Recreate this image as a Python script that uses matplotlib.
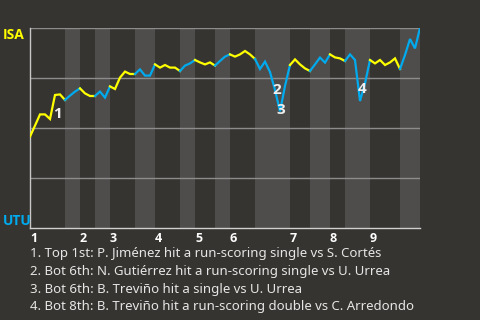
import matplotlib
matplotlib.use("Agg")
import matplotlib.pyplot as plt
import numpy as np

plt.rcParams['font.family'] = ['Noto Sans', 'DejaVu Sans']
BOLD_FAMILY = ['Open Sans', 'DejaVu Sans']

# plate appearances per half-inning (top 1, bot 1, top 2, ...)
pa_counts = [7, 3, 3, 3, 5, 4, 5, 3, 4, 3, 5, 7, 4, 4, 3, 5, 6, 4]
# ISA win probability (%) after each plate appearance
win_prob = [45.7, 51.2, 56.8, 56.8, 54.5, 66.5, 66.8, 64.0, 66.2, 68.2,
            69.8, 67.3, 66.0, 66.0, 68.2, 65.2, 70.8, 69.5, 75.2, 78.2,
            77.0, 77.0, 79.3, 76.2, 76.2, 81.8, 80.2, 81.5, 80.2, 80.2,
            78.5, 81.2, 82.3, 84.0, 82.8, 81.8, 82.8, 81.2, 83.5, 85.7,
            86.8, 85.7, 86.8, 88.5, 86.8, 84.5, 79.5, 83.2, 78.0, 69.0,
            58.3, 71.0, 81.5, 84.3, 81.8, 79.8, 78.5, 81.8, 85.2, 82.7,
            86.8, 85.3, 84.8, 83.5, 86.8, 84.0, 63.5, 72.3, 84.0, 82.3,
            84.0, 81.5, 82.8, 84.8, 79.5, 86.5, 94.5, 89.8, 100.0]
inning_labels = ['1', '2', '3', '4', '5', '6', '7', '8', '9']
team_top = 'ISA'
team_bottom = 'UTU'
ann_text = ['1', '2', '3', '4']
ann_x = [5.4, 49.4, 50.2, 66.4]
ann_y = [57.0, 69.0, 59.0, 69.5]
notes = [
    "1. Top 1st: P. Jiménez hit a run-scoring single vs S. Cortés",
    "2. Bot 6th: N. Gutiérrez hit a run-scoring single vs U. Urrea",
    "3. Bot 6th: B. Treviño hit a single vs U. Urrea",
    "4. Bot 8th: B. Treviño hit a run-scoring double vs C. Arredondo",
]

BG = '#363430'
BAND = '#4e4d4b'
YEL = '#ffff00'
BLUE = '#00aaee'
GRID = '#8c8c8c'

fig = plt.figure(figsize=(4.8, 3.2), dpi=100, facecolor=BG)
W, H = 480, 320
ax = fig.add_axes([30 / W, 1 - 228 / H, 390 / W, 200 / H])
ax.set_facecolor(BG)

bounds = np.concatenate([[0], np.cumsum(pa_counts)])
total = bounds[-1]
ax.set_xlim(0, total)
ax.set_ylim(0, 100)

for h in range(len(pa_counts)):
    s, e = bounds[h], bounds[h + 1]
    if h % 2 == 1:
        ax.axvspan(s, e, color=BAND, lw=0, zorder=0)

for yv in [25, 50, 75, 100]:
    ax.axhline(yv, color=GRID, lw=1, zorder=1)

x = np.arange(len(win_prob))
for h in range(len(pa_counts)):
    s, e = bounds[h], bounds[h + 1]
    c = YEL if h % 2 == 0 else BLUE
    ax.plot(x[s:e + 1], win_prob[s:e + 1], color=c, lw=1.6, zorder=3,
            solid_joinstyle='miter')

for t, xx, yy in zip(ann_text, ann_x, ann_y):
    ax.text(xx, yy, t, color='#eeeeee', fontsize=11, fontweight='bold',
            family=BOLD_FAMILY, ha='center', va='center', zorder=4)

for sp in ['top', 'right']:
    ax.spines[sp].set_visible(False)
ax.spines['left'].set_color('#c8c8c8')
ax.spines['bottom'].set_color('#d0d0d0')
ax.spines['left'].set_linewidth(1)
ax.spines['bottom'].set_linewidth(1)

ax.set_yticks([])
inning_starts = bounds[0:-1:2]
ax.set_xticks(inning_starts)
ax.set_xticklabels(inning_labels)
ax.tick_params(axis='x', length=0, pad=3, colors='#ffffff', labelsize=9)
for lab in ax.get_xticklabels():
    lab.set_fontweight('bold')
    lab.set_family(BOLD_FAMILY)
    lab.set_horizontalalignment('left')

fig.text(3 / W, 1 - 28 / H, team_top, color=YEL, fontsize=10, fontweight='bold',
         family=BOLD_FAMILY, ha='left', va='top')
fig.text(3 / W, 1 - 228 / H, team_bottom, color=BLUE, fontsize=10, fontweight='bold',
         family=BOLD_FAMILY, ha='left', va='bottom')

for k, line in enumerate(notes):
    fig.text(30 / W, 1 - (254 + 17.6 * k) / H, line, color='#e6e6e6',
             fontsize=9.5, ha='left', va='center')

fig.savefig('out.png', dpi=100, facecolor=BG)
